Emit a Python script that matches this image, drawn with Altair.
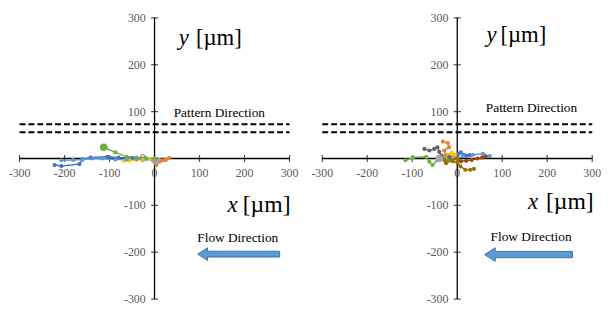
import altair as alt
import pandas as pd

SERIF = "Liberation Serif"

# ---------------- axes ----------------
TICKS = [-300, -200, -100, 0, 100, 200, 300]
TICK_LABELS = ["-300", "-200", "-100", "0", "100", "200", "300"]
PATTERN_LINES = [73, 56]

# ---------------- left panel trajectories (x, y in µm) ----------------
L1_X = [0, -25, -50, -80, -105, -142, -160, -167, -207, -222]
L1_Y = [0, 0, 1, 2, 3.5, 2, -2, -12, -16, -14]
L2_X = [0, 2, 4, 11, 18, 25, 33]
L2_Y = [0, -6, -14, -7, -4, -3, 1]
L3_X = [0, -4, 0, 6, 10]
L3_Y = [0, -4, -8, -8, -3]
L4_X = [0, -12, -25, -40, -55, -68]
L4_Y = [0, -1, -2, -3, -4, -5]
L5_X = [0, -18, -40, -62, -87, -116, -138, -160, -181, -207]
L5_Y = [0, -1, -1, -2, -2, 0, 0, -2, -3, -4]
L6_X = [0, -20, -40, -62, -87, -113]
L6_Y = [0, 1, 2, 3.5, 13, 24]
L_BIG_X = [-113]
L_BIG_Y = [24]
L_BIG_S = ["6"]

# ---------------- right panel trajectories ----------------
R1_X = [0, 3, 8, 14, 20, 28]
R1_Y = [0, 10, 13, 8, 6, 7]
R2_X = [0, -10, -25, -29, -18, -21, -32]
R2_Y = [0, 3, 7, 17, 24, 33, 36]
R3_X = [0, -12, -25, -38, -42]
R3_Y = [0, 2, 3, 2, -2]
R4_X = [0, -5, -12, -18, -20]
R4_Y = [0, 8, 12, 8, 2]
R5_X = [0, 13, 35, 57, 72]
R5_Y = [0, 5, 8, 10, 5]
R6_X = [0, -18, -30, -44, -55, -62, -69, -98, -115]
R6_Y = [0, -1, 0, -3.5, -14, -7, 3.5, 2, -4]
R8_X = [0, 8, 20, 32, 45, 55, 63]
R8_Y = [0, -6, -5, -3, 0, 2, 4]
R9_X = [0, -18, -35, -40, -44, -51, -62, -73]
R9_Y = [0, 3, 6, 14, 24, 20.5, 17, 20.5]
R10_X = [0, -12, -25, -28, -10, 0, 7, 18, 29, 37]
R10_Y = [0, -4, -10, -4, -6, -8, -17, -24, -24, -22]
R_BIG_X = [-40]
R_BIG_Y = [0]
R_BIG_S = ["3"]

SERIES_NAMES = ["1", "2", "3", "4", "5", "6", "7", "8", "9", "10"]
SERIES_COLORS = ["#4472C4", "#ED7D31", "#A5A5A5", "#FFC000", "#5B9BD5",
                 "#70AD47", "#264478", "#9E480E", "#636363", "#997300"]

LEFT = [("1", L1_X, L1_Y), ("2", L2_X, L2_Y), ("3", L3_X, L3_Y),
        ("4", L4_X, L4_Y), ("5", L5_X, L5_Y), ("6", L6_X, L6_Y)]
RIGHT = [("1", R1_X, R1_Y), ("2", R2_X, R2_Y), ("3", R3_X, R3_Y),
         ("4", R4_X, R4_Y), ("5", R5_X, R5_Y), ("6", R6_X, R6_Y),
         ("8", R8_X, R8_Y), ("9", R9_X, R9_Y), ("10", R10_X, R10_Y)]

# ---------------- annotations (data coordinates) ----------------
LEFT_ANN = dict(ylab=(54, 92, 257), pat=(144, 96), xlab=(162, 196, -100),
                flow=(185, -169), arrow=(96, 278, -204))
RIGHT_ANN = dict(ylab=(65, 96, 264), pat=(165, 108), xlab=(157, 197, -94),
                 flow=(164, -167), arrow=(61, 256, -205))

YDOM = [-310.5, 316.8]
ARROW_PATH = "M-1,0 L-0.76,-0.155 L-0.76,-0.071 L1,-0.071 L1,0.071 L-0.76,0.071 L-0.76,0.155 Z"
PX_PER_UNIT = 0.456


def panel(series, bigx, bigy, bigs, ann, xdom, width):
    xs = alt.Scale(domain=xdom, nice=False, zero=False)
    ys = alt.Scale(domain=YDOM, nice=False, zero=False)

    def X(f):
        return alt.X(f, scale=xs, axis=None)

    def Y(f):
        return alt.Y(f, scale=ys, axis=None)

    cscale = alt.Scale(domain=SERIES_NAMES, range=SERIES_COLORS)

    tdf = pd.DataFrame({"v": TICKS, "lab": TICK_LABELS, "z": [0] * len(TICKS)})
    xlabels = alt.Chart(tdf).mark_text(dy=15, fontSize=12, font=SERIF, color="#595959").encode(
        x=X("v:Q"), y=Y("z:Q"), text="lab:N")
    ylabels = alt.Chart(tdf).mark_text(align="right", baseline="middle", dx=-9, fontSize=12,
                                       font=SERIF, color="#595959").encode(
        x=X("z:Q"), y=Y("v:Q"), text="lab:N")

    adf = pd.DataFrame({"a": [TICKS[0]], "b": [TICKS[-1]], "z": [0]})
    xaxis = alt.Chart(adf).mark_rule(color="black", strokeWidth=1.3).encode(
        x=X("a:Q"), x2="b:Q", y=Y("z:Q"))
    yaxis = alt.Chart(adf).mark_rule(color="black", strokeWidth=1.3).encode(
        y=Y("a:Q"), y2="b:Q", x=X("z:Q"))
    xticks = alt.Chart(tdf).mark_tick(orient="vertical", size=7, thickness=1.2, color="black").encode(
        x=X("v:Q"), y=Y("z:Q"))
    yticks = alt.Chart(tdf).mark_tick(orient="horizontal", size=7, thickness=1.2, color="black").encode(
        x=X("z:Q"), y=Y("v:Q"))

    ddf = pd.DataFrame({"a": [TICKS[0]] * len(PATTERN_LINES), "b": [TICKS[-1]] * len(PATTERN_LINES),
                        "y": PATTERN_LINES})
    dashes = alt.Chart(ddf).mark_rule(color="black", strokeWidth=2, strokeDash=[6, 3]).encode(
        x=X("a:Q"), x2="b:Q", y=Y("y:Q"))

    rows = []
    for name, xv, yv in series:
        for i, (a, b) in enumerate(zip(xv, yv)):
            rows.append({"s": name, "i": i, "x": a, "y": b})
    traj = pd.DataFrame(rows)
    lines = alt.Chart(traj).mark_line(strokeWidth=1.5).encode(
        x=X("x:Q"), y=Y("y:Q"), color=alt.Color("s:N", scale=cscale, legend=None),
        detail="s:N", order="i:Q")
    pts = alt.Chart(traj).mark_circle(size=18, opacity=1).encode(
        x=X("x:Q"), y=Y("y:Q"), color=alt.Color("s:N", scale=cscale, legend=None))
    bdf = pd.DataFrame({"x": bigx, "y": bigy, "s": bigs})
    big = alt.Chart(bdf).mark_circle(size=60, opacity=1).encode(
        x=X("x:Q"), y=Y("y:Q"), color=alt.Color("s:N", scale=cscale, legend=None))

    yx, ybx, yy = ann["ylab"]
    xx, xbx, xy = ann["xlab"]
    ty_i = pd.DataFrame({"x": [yx], "y": [yy], "t": ["y"]})
    ty_b = pd.DataFrame({"x": [ybx], "y": [yy], "t": ["[µm]"]})
    tx_i = pd.DataFrame({"x": [xx], "y": [xy], "t": ["x"]})
    tx_b = pd.DataFrame({"x": [xbx], "y": [xy], "t": ["[µm]"]})

    def label(df, size, italic):
        kw = dict(align="left", baseline="middle", fontSize=size, font=SERIF, color="black")
        if italic:
            kw["fontStyle"] = "italic"
        return alt.Chart(df).mark_text(**kw).encode(x=X("x:Q"), y=Y("y:Q"), text="t:N")

    sdf = pd.DataFrame({"x": [ann["pat"][0], ann["flow"][0]], "y": [ann["pat"][1], ann["flow"][1]],
                        "t": ["Pattern Direction", "Flow Direction"]})
    small = alt.Chart(sdf).mark_text(align="center", baseline="middle", fontSize=13.5, font=SERIF,
                                     color="black").encode(x=X("x:Q"), y=Y("y:Q"), text="t:N")

    a0, a1, ay = ann["arrow"]
    arrow_px = (a1 - a0) * PX_PER_UNIT
    ardf = pd.DataFrame({"x": [(a0 + a1) / 2], "y": [ay]})
    arrow = alt.Chart(ardf).mark_point(shape=ARROW_PATH, filled=True, fill="#5B9BD5",
                                       stroke="#41719C", strokeWidth=1, opacity=1,
                                       size=arrow_px ** 2).encode(x=X("x:Q"), y=Y("y:Q"))

    return alt.layer(xlabels, ylabels, dashes, xaxis, yaxis, xticks, yticks,
                     lines, pts, big,
                     label(ty_i, 23, True), label(ty_b, 23, False),
                     label(tx_i, 23, True), label(tx_b, 24, False),
                     small, arrow).properties(width=width, height=298)


left = panel(LEFT, L_BIG_X, L_BIG_Y, L_BIG_S, LEFT_ANN, [-325.7, 341.0], 304)
right = panel(RIGHT, R_BIG_X, R_BIG_Y, R_BIG_S, RIGHT_ANN, [-331.8, 319.5], 297)

chart = alt.hconcat(left, right, spacing=0).properties(padding=0).configure_view(stroke=None)
chart.save("out.html", embed_options={"renderer": "svg", "actions": False})
